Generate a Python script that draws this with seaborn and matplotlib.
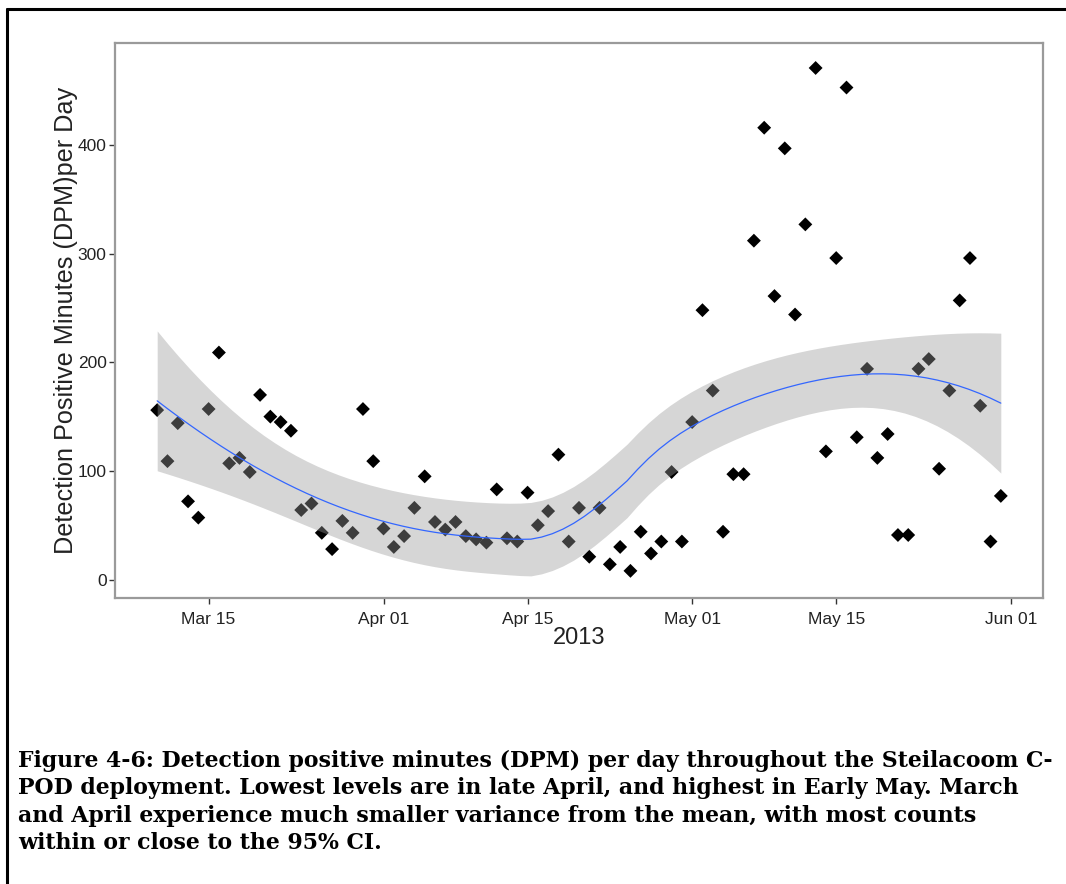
import numpy as np
import pandas as pd
import matplotlib
matplotlib.use("Agg")
import matplotlib.pyplot as plt
import matplotlib.dates as mdates
from matplotlib.lines import Line2D
import seaborn as sns

# Daily detection positive minutes, Steilacoom C-POD, 10 Mar - 31 May 2013
start_date = "2013-03-10"
end_date = "2013-05-31"
march_dpm = [156, 109, 144, 72, 57, 157, 209, 107, 112, 99, 170,
             150, 145, 137, 64, 70, 43, 28, 54, 43, 157, 109]
april_dpm = [47, 30, 40, 66, 95, 53, 46, 53, 40, 37, 34, 83, 38, 35, 80,
             50, 63, 115, 35, 66, 21, 66, 14, 30, 8, 44, 24, 35, 99, 35]
may_dpm = [145, 248, 174, 44, 97, 97, 312, 416, 261, 397, 244, 327, 471,
           118, 296, 453, 131, 194, 112, 134, 41, 41, 194, 203, 102, 174,
           257, 296, 160, 35, 77]
tick_dates = ["2013-03-15", "2013-04-01", "2013-04-15",
              "2013-05-01", "2013-05-15", "2013-06-01"]
y_ticks = [0, 100, 200, 300, 400]

caption_lines = [
    "Figure 4-6: Detection positive minutes (DPM) per day throughout the Steilacoom C-",
    "POD deployment. Lowest levels are in late April, and highest in Early May. March",
    "and April experience much smaller variance from the mean, with most counts",
    "within or close to the 95% CI.",
]

dates = pd.date_range(start_date, end_date, freq="D")
df = pd.DataFrame({"date": dates, "dpm": march_dpm + april_dpm + may_dpm})

SPAN = 0.9


def loess_operator(x, x_eval, span=SPAN):
    """Rows of the local-quadratic (tricube) loess smoother evaluated at x_eval."""
    n = len(x)
    q = int(np.floor(n * span))
    rows = []
    for x0 in x_eval:
        d = np.abs(x - x0)
        h = np.sort(d)[q - 1]
        w = np.clip(1 - (d / h) ** 3, 0, None) ** 3
        X = np.column_stack([np.ones(n), x - x0, (x - x0) ** 2])
        XtW = X.T * w
        rows.append(np.linalg.solve(XtW @ X, XtW)[0])
    return np.array(rows)


xnum = mdates.date2num(df["date"])
yval = df["dpm"].to_numpy(float)
grid = np.linspace(xnum.min(), xnum.max(), 80)

L_data = loess_operator(xnum, xnum)
L_grid = loess_operator(xnum, grid)
resid = yval - L_data @ yval
M = np.eye(len(xnum)) - L_data
A = M.T @ M
delta1 = np.trace(A)
delta2 = np.trace(A @ A)
sigma = np.sqrt(np.sum(resid ** 2) / delta1)
dof = delta1 ** 2 / delta2
z = 1.959964
tq = z + (z ** 3 + z) / (4 * dof) + (5 * z ** 5 + 16 * z ** 3 + 3 * z) / (96 * dof ** 2)
fit = L_grid @ yval
se = sigma * np.sqrt(np.sum(L_grid ** 2, axis=1))
smooth = pd.DataFrame({"date": mdates.num2date(grid), "fit": fit,
                       "lo": fit - tq * se, "hi": fit + tq * se})

sns.set_theme(style="white")
plt.rcParams["font.family"] = ["Liberation Sans", "DejaVu Sans"]

fig = plt.figure(figsize=(10.66, 8.84), dpi=100)
ax = fig.add_axes([115 / 1066, 1 - 598 / 884, (1043 - 115) / 1066, (598 - 43) / 884])

sns.scatterplot(data=df, x="date", y="dpm", marker="D", s=50, color="black",
                edgecolor="none", linewidth=0, ax=ax, zorder=2)
ax.fill_between(smooth["date"], smooth["lo"], smooth["hi"], color="#999999",
                alpha=0.4, linewidth=0, zorder=3)
sns.lineplot(data=smooth, x="date", y="fit", color="#3366FF", linewidth=0.9,
             ax=ax, zorder=4)

pad = pd.Timedelta(days=4.1)
ax.set_xlim(df["date"].min() - pad, df["date"].max() + pad)
ax.set_ylim(-17, 494)
ax.set_xticks(pd.to_datetime(tick_dates))
ax.xaxis.set_major_formatter(mdates.DateFormatter("%b %d"))
ax.set_yticks(y_ticks)

for sp in ax.spines.values():
    sp.set_visible(True)
    sp.set_color("#9a9a9a")
    sp.set_linewidth(1.6)

ax.tick_params(axis="both", direction="out", length=4, width=1.0,
               color="#333333", labelsize=12.5, labelcolor="#222222",
               bottom=True, left=True)
ax.tick_params(axis="x", pad=6)
ax.tick_params(axis="y", pad=2)
ax.set_xlabel("2013", fontsize=17, color="#222222", labelpad=0)
ax.set_ylabel("Detection Positive Minutes (DPM)per Day", fontsize=18.2,
              color="#222222", labelpad=0)

# caption below the panel
y0 = 1 - 761 / 884
for i, line in enumerate(caption_lines):
    fig.text(18 / 1066, y0 - i * 27.4 / 884, line, fontsize=15.8,
             fontweight="bold", family=["DejaVu Serif"], va="center",
             ha="left", color="black")

# framing rule along top and left edge
fig.add_artist(Line2D([7 / 1066, 7 / 1066], [0, 1 - 9 / 884],
                      transform=fig.transFigure, color="black", linewidth=2.2))
fig.add_artist(Line2D([7 / 1066, 1], [1 - 9 / 884, 1 - 9 / 884],
                      transform=fig.transFigure, color="black", linewidth=2.2))

fig.savefig("out.png", dpi=100)
